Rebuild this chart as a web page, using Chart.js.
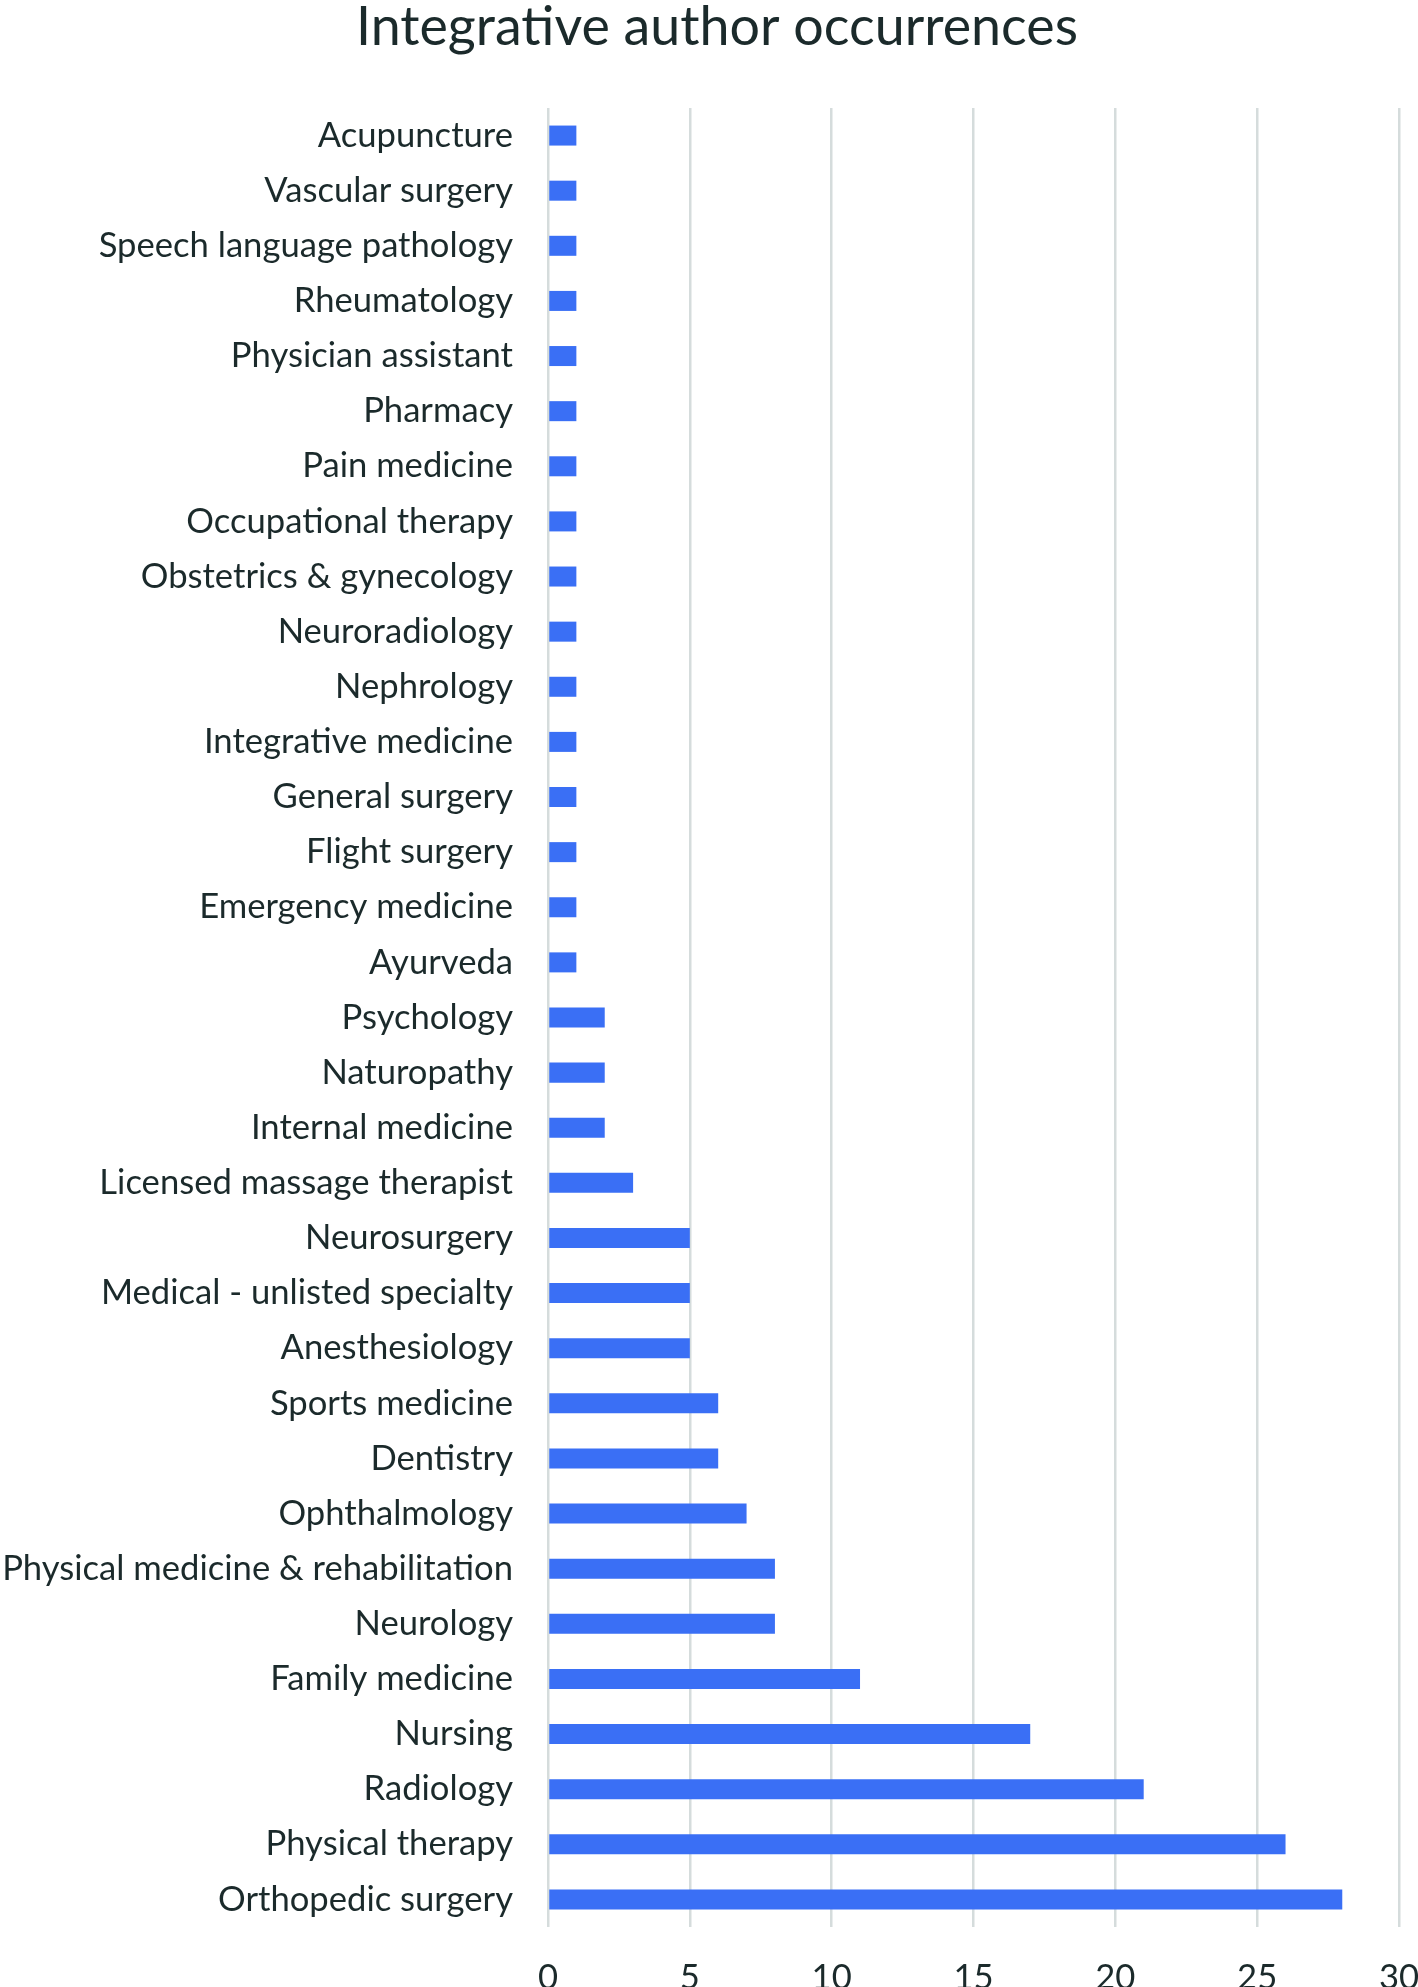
<!DOCTYPE html>
<html lang="en">
<head>
  <meta charset="UTF-8">
  <title>Integrative author occurrences</title>
  <script src="https://cdn.jsdelivr.net/npm/chart.js"></script>
  <style>
    html, body { margin: 0; padding: 0; background: #fff; overflow: hidden; }
    .grafico { position: relative; width: 1418px; height: 2030px; }
  </style>
</head>
<body>
  <div class="grafico">
    <canvas id="grafico"></canvas>
  </div>

  <script>
    // data, top to bottom as in the picture
    const specialties = [
      'Acupuncture', 'Vascular surgery', 'Speech language pathology', 'Rheumatology',
      'Physician assistant', 'Pharmacy', 'Pain medicine', 'Occupational therapy',
      'Obstetrics & gynecology', 'Neuroradiology', 'Nephrology', 'Integrative medicine',
      'General surgery', 'Flight surgery', 'Emergency medicine', 'Ayurveda',
      'Psychology', 'Naturopathy', 'Internal medicine', 'Licensed massage therapist',
      'Neurosurgery', 'Medical - unlisted specialty', 'Anesthesiology', 'Sports medicine',
      'Dentistry', 'Ophthalmology', 'Physical medicine & rehabilitation', 'Neurology',
      'Family medicine', 'Nursing', 'Radiology', 'Physical therapy', 'Orthopedic surgery'
    ];
    const occurrences = [
      1, 1, 1, 1,
      1, 1, 1, 1,
      1, 1, 1, 1,
      1, 1, 1, 1,
      2, 2, 2, 3,
      5, 5, 5, 6,
      6, 7, 8, 8,
      11, 17, 21, 26, 28
    ];
    const xTicks = [0, 5, 10, 15, 20, 25, 30];
    const chartTitle = 'Integrative author occurrences';

    const FONT = 'Lato';
    const TEXT = '#1b2a2b';
    const H = 2030;

    // pick font sizes so the widths match the picture
    const mctx = document.createElement('canvas').getContext('2d');
    function fitSize(text, target) {
      mctx.font = '100px ' + FONT;
      return 100 * target / mctx.measureText(text).width;
    }
    const labelSize = fitSize('Physical medicine & rehabilitation', 511);
    const titleSize = fitSize(chartTitle, 722);

    const ctx = document.getElementById('grafico').getContext('2d');
    new Chart(ctx, {
      type: 'bar',
      data: {
        labels: specialties,
        datasets: [{
          data: occurrences,
          backgroundColor: '#3a6ff5',
          barPercentage: 0.363,
          categoryPercentage: 1
        }]
      },
      options: {
        indexAxis: 'y',
        responsive: true,
        maintainAspectRatio: false,
        animation: false,
        // negative right padding moves the title centre a bit to the right, as in the picture
        layout: { padding: { left: 0, right: -16, top: 0, bottom: 0 } },
        plugins: {
          legend: { display: false },
          tooltip: { enabled: false },
          title: {
            display: true,
            text: chartTitle,
            color: TEXT,
            font: { family: FONT, size: titleSize, weight: 'normal', lineHeight: 1.2 },
            padding: { top: -5, bottom: 108 + 5 - titleSize * 1.2 }
          }
        },
        scales: {
          x: {
            min: 0,
            max: 30,
            afterBuildTicks: s => { s.ticks = xTicks.map(v => ({ value: v })); },
            afterFit: s => { s.height = H - 1927; s.paddingLeft = 0; s.paddingRight = 19; },
            grid: { color: '#d5dcdc', lineWidth: 2.5, drawTicks: false },
            border: { display: false },
            ticks: {
              color: TEXT,
              padding: 30,
              font: { family: FONT, size: labelSize }
            }
          },
          y: {
            afterFit: s => { s.width = 548; s.paddingTop = 0; s.paddingBottom = 0; },
            grid: { display: false, drawTicks: false },
            border: { display: false },
            ticks: {
              color: TEXT,
              padding: 35,
              autoSkip: false,
              font: { family: FONT, size: labelSize }
            }
          }
        }
      }
    });
  </script>
</body>
</html>
